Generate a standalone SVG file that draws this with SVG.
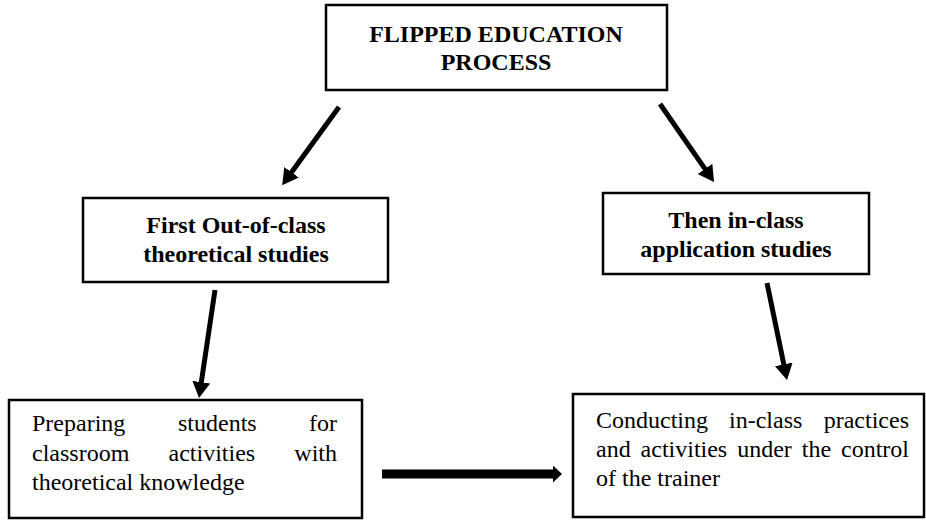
<svg xmlns="http://www.w3.org/2000/svg" width="926" height="521" viewBox="0 0 926 521">
<style>
.box{fill:#fff;stroke:#000;stroke-width:2.5}
.b{font-family:"Liberation Serif","Times New Roman",serif;font-weight:bold;font-size:24px;fill:#000;text-anchor:middle}
.r{font-family:"Liberation Serif","Times New Roman",serif;font-size:24px;fill:#000}
.e{text-anchor:end}
.conn{stroke:#000;stroke-width:5;fill:none}
</style>
<defs>
<marker id="ah" markerUnits="userSpaceOnUse" markerWidth="16" markerHeight="18" refX="1" refY="9" orient="auto"><path d="M0,0 L16,9 L0,18 z" fill="#000"/></marker>
<marker id="ah2" markerUnits="userSpaceOnUse" markerWidth="10" markerHeight="17" refX="1" refY="8.5" orient="auto"><path d="M0,0 L9,8.5 L0,17 z" fill="#000"/></marker>
</defs>
<rect width="926" height="521" fill="#fff"/>
<g id="connectors">
<line class="conn" x1="339" y1="107" x2="291" y2="173" marker-end="url(#ah)"/>
<line class="conn" x1="660" y1="104" x2="705.5" y2="169.7" marker-end="url(#ah)"/>
<line class="conn" x1="215" y1="290" x2="201.2" y2="383.2" marker-end="url(#ah)"/>
<line class="conn" x1="767" y1="283" x2="784" y2="365.3" marker-end="url(#ah)"/>
<line class="conn" x1="382" y1="474" x2="554" y2="474" style="stroke-width:9" marker-end="url(#ah2)"/>
</g>
<g id="top">
<rect class="box" x="326" y="5" width="341" height="85"/>
<text class="b" x="496" y="42">FLIPPED EDUCATION</text>
<text class="b" x="496" y="70">PROCESS</text>
</g>
<g id="out-of-class">
<rect class="box" x="83" y="198" width="305" height="84"/>
<text class="b" x="236" y="233">First Out-of-class</text>
<text class="b" x="236" y="262">theoretical studies</text>
</g>
<g id="in-class">
<rect class="box" x="603" y="193" width="266" height="81"/>
<text class="b" x="736" y="228">Then in-class</text>
<text class="b" x="736" y="257">application studies</text>
</g>
<g id="preparing">
<rect class="box" x="9" y="400" width="353" height="118"/>
<text class="r" x="32" y="431">Preparing</text>
<text class="r" x="178" y="431">students</text>
<text class="r e" x="337" y="431">for</text>
<text class="r" x="32" y="461">classroom</text>
<text class="r" x="168.5" y="461">activities</text>
<text class="r e" x="337" y="461">with</text>
<text class="r" x="32" y="490">theoretical knowledge</text>
</g>
<g id="conducting">
<rect class="box" x="573" y="394" width="351" height="123"/>
<text class="r" x="596" y="428">Conducting</text>
<text class="r" x="729" y="428">in-class</text>
<text class="r e" x="909" y="428">practices</text>
<text class="r" x="596" y="457" textLength="313" lengthAdjust="spacing" style="word-spacing:4px">and activities under the control</text>
<text class="r" x="596" y="486">of the trainer</text>
</g>
</svg>
